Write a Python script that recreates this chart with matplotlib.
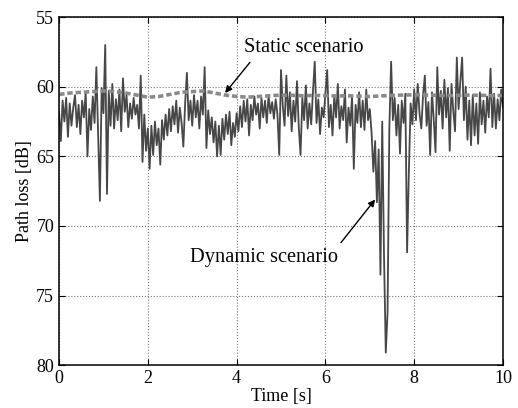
import numpy as np
import matplotlib
matplotlib.use('Agg')
import matplotlib.pyplot as plt

plt.rcParams['font.family'] = ['Liberation Serif', 'DejaVu Serif']

# dynamic scenario, one value every 0.04 s
dynamic_loss = [
    61.8, 63.9, 61.0, 62.5, 60.8, 63.6, 61.2, 62.8, 61.5, 60.6, 62.9, 61.3, 63.4,
    61.0, 62.2, 60.4, 65.0, 61.6, 63.1, 60.7, 62.6, 58.6, 63.5, 68.2, 60.1,
    61.9, 57.0, 67.7, 60.3, 62.8, 59.8, 63.0, 60.9, 62.4, 60.2, 63.2, 59.4, 61.8,
    60.6, 62.9, 61.2, 62.3, 60.8, 62.0, 61.3, 63.0, 59.2, 65.4, 62.0, 64.6,
    63.0, 65.9, 62.8, 64.9, 62.5, 64.2, 63.0, 65.6, 62.4, 63.8, 62.0, 63.5, 61.6,
    63.2, 61.4, 62.7, 61.0, 63.3, 61.5, 62.6, 64.3, 61.2, 59.0, 62.4, 61.0,
    62.8, 60.6, 62.2, 61.0, 63.0, 60.7, 62.0, 58.6, 64.4, 61.7, 63.4, 62.2, 64.0,
    62.5, 65.0, 62.8, 64.9, 62.3, 63.8, 62.0, 63.4, 61.8, 64.2, 62.6, 63.6,
    61.9, 63.2, 61.4, 62.9, 61.0, 62.5, 60.9, 63.5, 61.3, 62.4, 60.7, 62.0, 61.2,
    63.0, 60.8, 62.2, 61.0, 62.6, 60.6, 61.9, 61.1, 62.3, 60.9, 62.0, 64.9,
    58.8, 61.4, 62.8, 59.2, 62.1, 60.4, 63.2, 61.0, 62.5, 59.6, 62.9, 64.9, 60.8,
    62.4, 59.9, 63.0, 61.2, 62.7, 60.3, 58.2, 62.6, 60.9, 63.4, 61.5, 62.2,
    60.5, 58.8, 62.9, 61.3, 63.5, 60.6, 62.2, 59.8, 63.0, 61.4, 62.4, 60.2, 64.0,
    61.5, 62.8, 60.7, 65.9, 61.3, 62.6, 60.4, 62.9, 61.0, 63.1, 60.2, 62.4,
    61.6, 63.3, 66.1, 63.9, 68.3, 64.5, 73.5, 62.5, 72.1, 79.1, 76.2, 63.0, 58.2,
    62.4, 60.8, 63.5, 61.3, 64.8, 61.0, 62.6, 60.5, 71.9, 66.1, 61.2, 62.7,
    60.2, 62.4, 59.8, 61.9, 63.0, 60.6, 59.2, 62.8, 61.1, 64.9, 60.4, 62.3, 64.7,
    58.6, 62.0, 60.3, 63.0, 59.5, 62.2, 60.1, 64.6, 59.8, 61.7, 63.2, 57.9,
    61.6, 59.6, 57.9, 62.4, 60.0, 63.8, 61.0, 64.2, 60.6, 63.5, 61.2, 64.1, 60.4,
    62.7, 61.0, 63.3, 60.7, 62.2, 58.7, 62.9, 60.5, 63.0, 60.9, 62.4, 60.2, 61.5,
]

# static scenario, one value every 0.25 s
static_loss = [
    60.55, 60.45, 60.40, 60.35, 60.30, 60.35, 60.45, 60.60, 60.75, 60.70,
    60.55, 60.40, 60.35, 60.30, 60.45, 60.60, 60.70, 60.75, 60.70, 60.65,
    60.60, 60.62, 60.65, 60.62, 60.64, 60.66, 60.65, 60.68, 60.70, 60.66,
    60.62, 60.60, 60.58, 60.60, 60.62, 60.64, 60.62, 60.60, 60.62, 60.64, 60.62,
]

t_dyn = np.linspace(0, 10, len(dynamic_loss))
t_sta = np.linspace(0, 10, len(static_loss))

fig = plt.figure(figsize=(5.18, 4.08), dpi=100)
ax = fig.add_axes([0.114, 0.105, 0.857, 0.853])

ax.plot(t_dyn, dynamic_loss, color='#474747', lw=1.3)
ax.plot(t_sta, static_loss, color='#8a8a8a', lw=2.6, ls=(0, (1.5, 0.8)))

ax.set_xlim(0, 10)
ax.set_ylim(80, 55)
ax.set_xticks([0, 2, 4, 6, 8, 10])
ax.set_yticks([55, 60, 65, 70, 75, 80])
ax.grid(True, ls=':', color='#777777', lw=0.8)
ax.tick_params(direction='in', top=True, right=True, labelsize=13, length=4)
for s in ax.spines.values():
    s.set_linewidth(1.1)

ax.set_xlabel('Time [s]', fontsize=13, labelpad=1)
ax.set_ylabel('Path loss [dB]', fontsize=13, labelpad=2)

# labels and arrows
ax.text(5.52, 57.15, 'Static scenario', fontsize=14.7, ha='center', va='center')
ax.annotate('', xy=(3.74, 60.45), xytext=(4.30, 58.25),
            arrowprops=dict(arrowstyle='-|>', color='black', lw=1,
                            shrinkA=0, shrinkB=0))
ax.text(4.62, 72.25, 'Dynamic scenario', fontsize=14.7, ha='center', va='center')
ax.annotate('', xy=(7.12, 68.1), xytext=(6.35, 71.2),
            arrowprops=dict(arrowstyle='-|>', color='black', lw=1,
                            shrinkA=0, shrinkB=0))

fig.savefig('out.png', dpi=100)
